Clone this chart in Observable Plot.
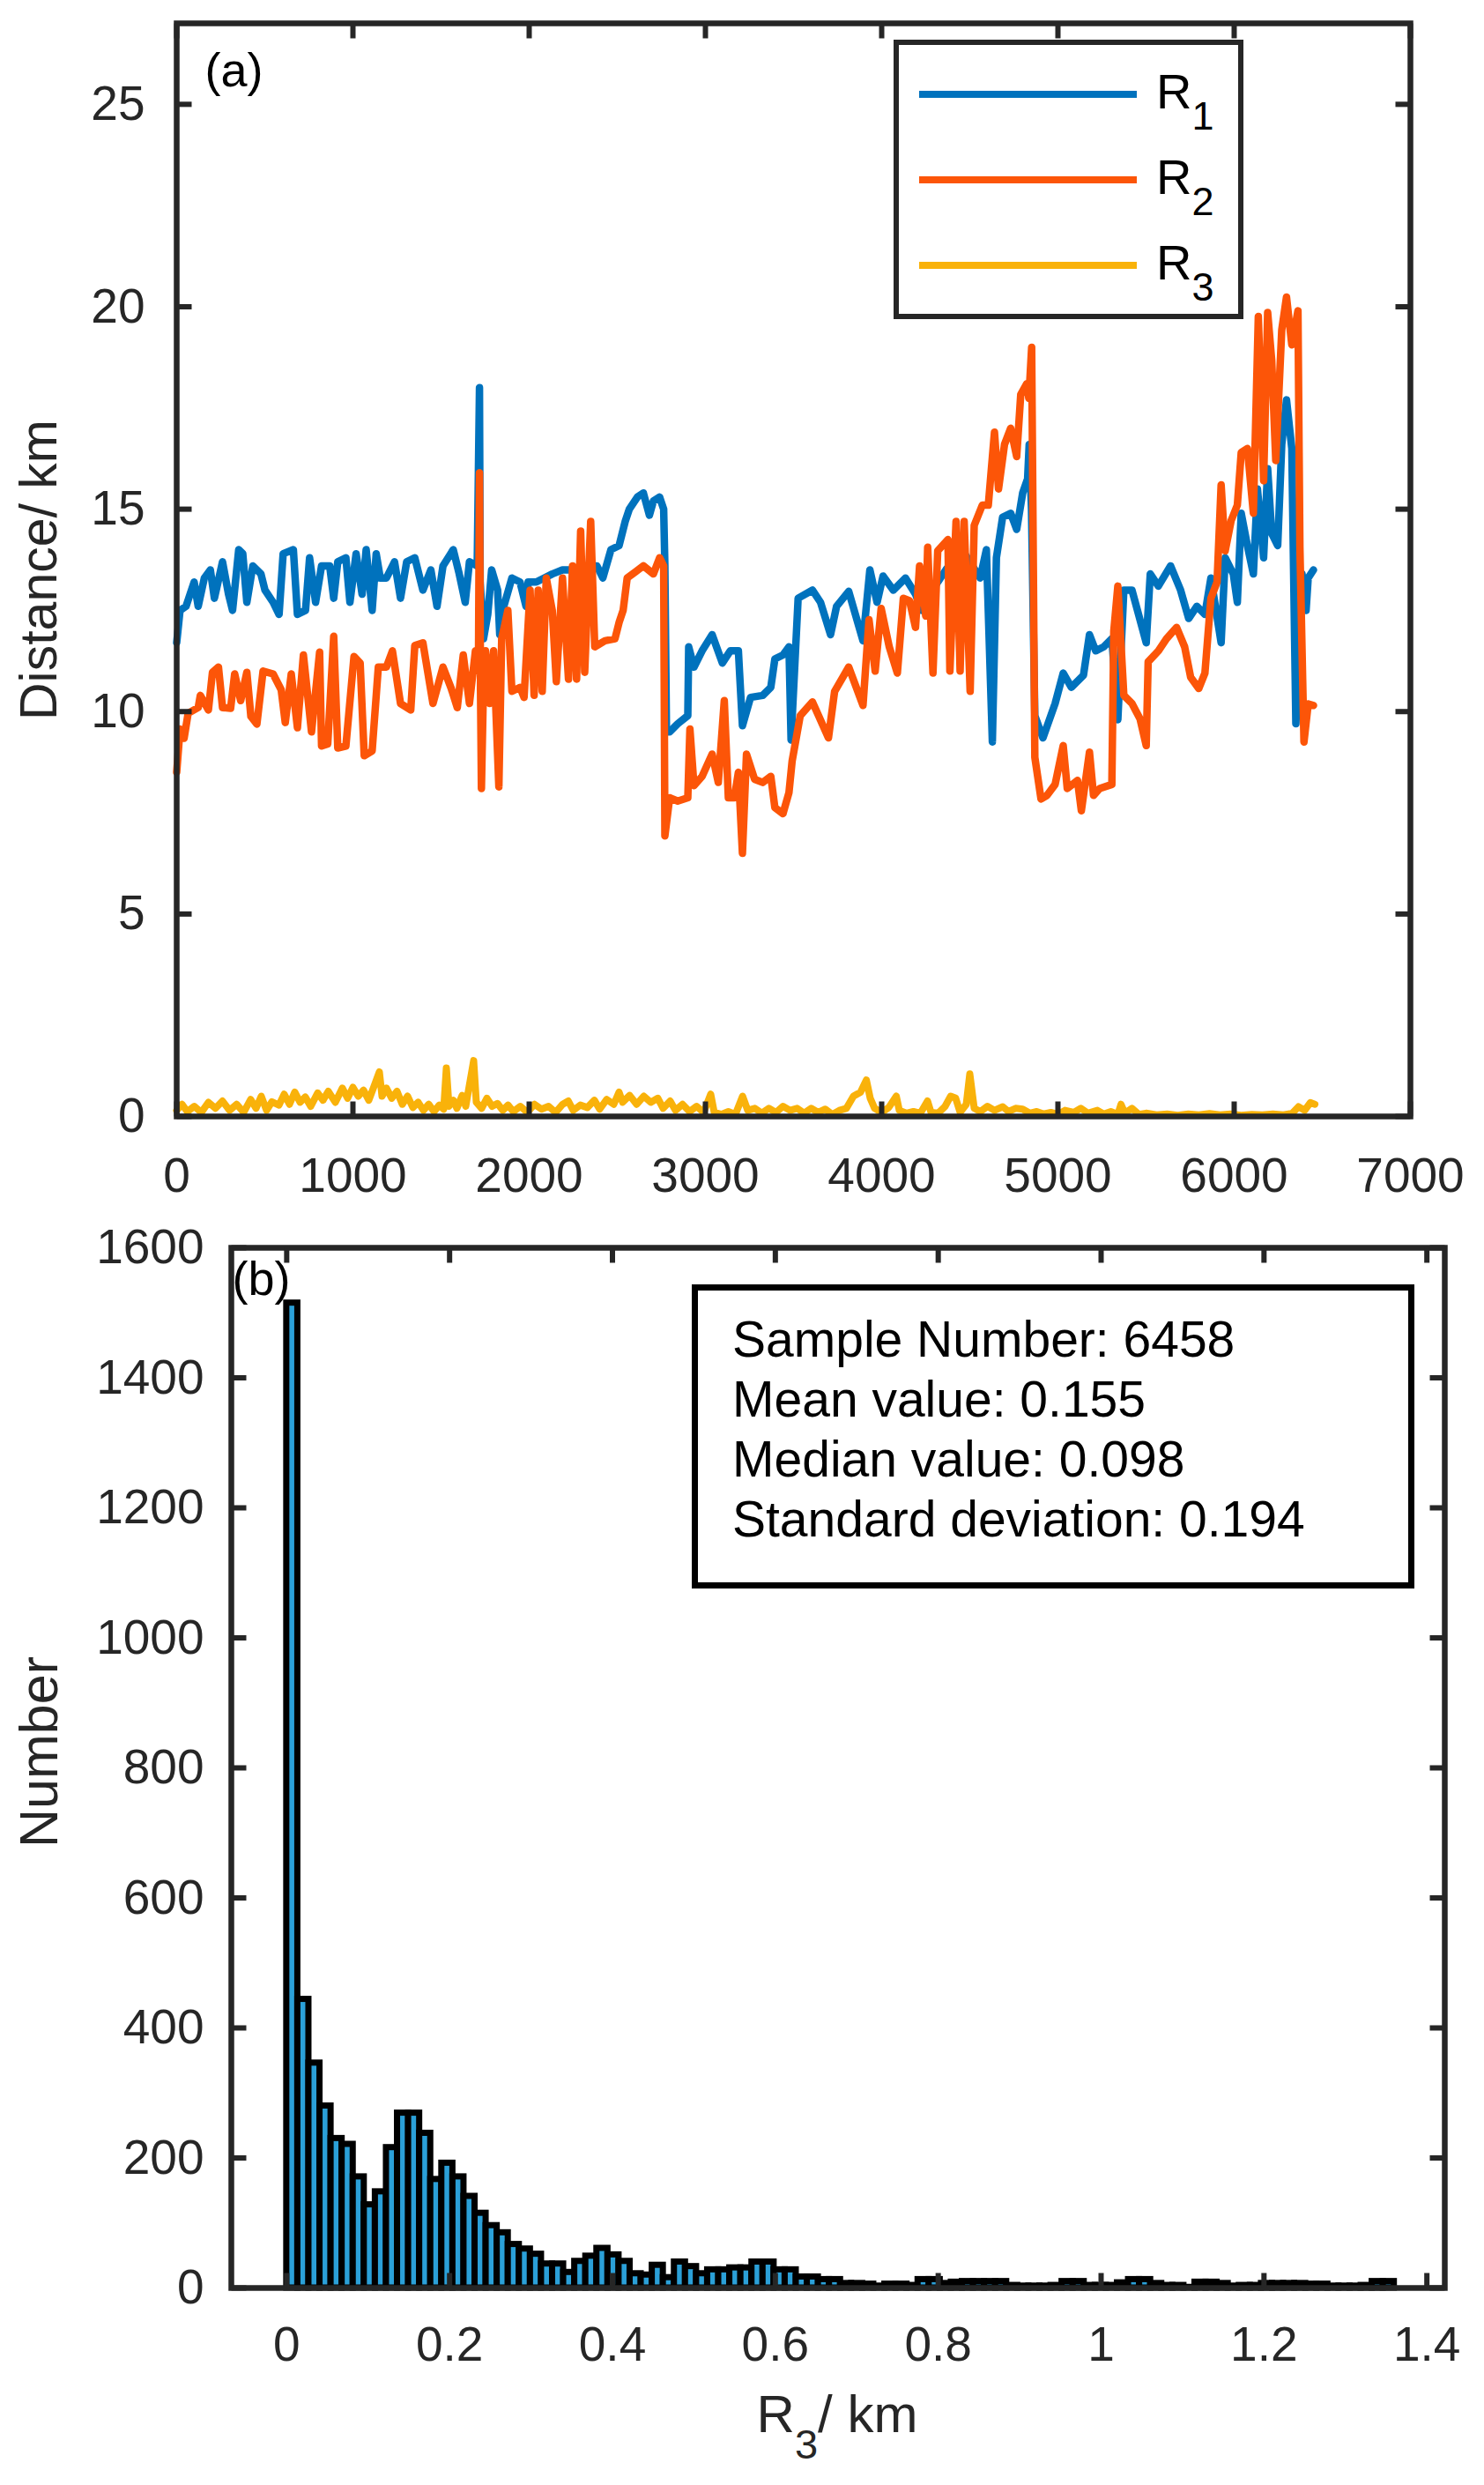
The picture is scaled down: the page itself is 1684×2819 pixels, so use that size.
<!DOCTYPE html>
<html>
<head>
<meta charset="utf-8">
<script src="https://cdn.jsdelivr.net/npm/d3@7"></script>
<script src="https://cdn.jsdelivr.net/npm/@observablehq/plot@0.6"></script>
<style>
html,body{margin:0;padding:0;background:#fff;}
#wrap{position:relative;width:1684px;height:2819px;overflow:hidden;font-family:"Liberation Sans",Arial,Helvetica,sans-serif;}
#top,#bot,#ov{position:absolute;left:0;}
#top{top:0;} #bot{top:1380px;} #ov{top:0;pointer-events:none;}
</style>
</head>
<body>
<div id="wrap">
  <div id="top"></div>
  <div id="bot"></div>
  <svg id="ov" width="1684" height="2819" style="font-family:'Liberation Sans',Arial,Helvetica,sans-serif">
    <g id="legend">
      <rect x="1017" y="48" width="391" height="311" fill="#fff" stroke="#262626" stroke-width="6"/>
    </g>
    <g id="stats">
      <rect x="788.5" y="1460.5" width="813" height="338" fill="#fff" stroke="#000" stroke-width="7"/>
    </g>
    <g id="xlabelB"></g>
  </svg>
</div>
<script>
// ---------------- DATA ----------------
// Panel (a): sample index vs distance (km)
const r1 = [
[0,11.7],[19,12.5],[53,12.6],[99,13.2],[122,12.6],[157,13.3],[191,13.5],[214,12.8],[260,13.7],[294,12.9],[317,12.5],[352,14.0],[375,13.9],[398,12.7],[432,13.6],[478,13.4],[501,13.0],[547,12.7],[581,12.4],[604,13.9],[662,14.0],[685,12.4],[731,12.5],[754,13.8],[788,12.7],[822,13.6],[868,13.6],[891,12.8],[914,13.7],[960,13.8],[983,12.7],[1018,13.9],[1052,12.9],[1075,14.0],[1109,12.5],[1132,13.9],[1155,13.3],[1190,13.3],[1236,13.7],[1270,12.8],[1305,13.7],[1351,13.8],[1397,13.0],[1442,13.5],[1477,12.6],[1511,13.6],[1569,14.0],[1603,13.4],[1637,12.7],[1661,13.7],[1705,13.6],[1718,18.0],[1722,13.2],[1741,11.8],[1765,12.4],[1787,13.5],[1821,13.0],[1833,11.9],[1856,12.6],[1902,13.3],[1948,13.2],[1982,12.6],[1994,13.2],[2040,13.2],[2085,13.3],[2131,13.4],[2189,13.5],[2246,13.5],[2300,13.6],[2384,13.6],[2418,13.3],[2464,14.0],[2510,14.1],[2545,14.7],[2568,15.0],[2614,15.3],[2648,15.4],[2682,14.85],[2705,15.2],[2740,15.3],[2763,15.0],[2770,13.6],[2779,9.5],[2797,9.5],[2843,9.7],[2900,9.9],[2905,11.6],[2935,11.1],[2981,11.5],[3038,11.9],[3096,11.2],[3141,11.5],[3187,11.5],[3210,9.65],[3256,10.35],[3325,10.4],[3371,10.6],[3394,11.3],[3440,11.4],[3474,11.6],[3486,9.3],[3526,12.8],[3607,13.0],[3653,12.7],[3710,11.9],[3744,12.6],[3813,12.97],[3894,11.75],[3933,13.5],[3974,12.7],[4008,13.35],[4066,13.0],[4135,13.3],[4192,12.9],[4227,12.5],[4318,13.2],[4364,13.5],[4456,14.0],[4559,13.3],[4594,14.0],[4628,9.25],[4651,13.8],[4686,14.8],[4732,14.9],[4766,14.5],[4800,15.4],[4828,15.75],[4837,16.6],[4850,15.0],[4869,9.9],[4915,9.35],[4984,10.2],[5030,10.95],[5076,10.6],[5145,10.9],[5179,11.9],[5214,11.5],[5260,11.6],[5306,11.8],[5340,9.8],[5374,13.0],[5420,13.0],[5501,11.7],[5524,13.4],[5570,13.1],[5639,13.6],[5696,13.0],[5742,12.3],[5788,12.6],[5834,12.4],[5868,13.3],[5926,11.7],[5949,13.8],[5995,13.4],[6018,12.7],[6040,14.9],[6075,14.1],[6109,13.4],[6132,15.5],[6167,13.8],[6190,16.0],[6213,14.4],[6247,14.1],[6270,16.6],[6297,17.7],[6327,16.5],[6350,9.7],[6385,13.4],[6408,12.5],[6420,13.3],[6450,13.5]
];
const r2 = [
[0,8.5],[19,9.57],[42,9.34],[65,9.96],[122,10.1],[134,10.4],[180,10.04],[203,10.97],[237,11.1],[260,10.1],[306,10.08],[329,10.93],[363,10.27],[398,10.97],[421,9.88],[455,9.69],[490,11.0],[547,10.93],[593,10.54],[616,9.73],[650,10.93],[685,9.6],[719,11.4],[765,9.5],[811,11.47],[822,9.15],[857,9.2],[891,11.86],[914,9.1],[960,9.15],[1006,11.36],[1041,11.2],[1064,8.91],[1109,9.03],[1144,11.1],[1190,11.1],[1224,11.5],[1270,10.2],[1328,10.04],[1351,11.63],[1397,11.7],[1454,10.2],[1511,11.1],[1557,10.58],[1592,10.1],[1626,11.4],[1661,10.2],[1695,11.5],[1712,11.0],[1718,15.9],[1724,10.5],[1729,8.1],[1740,10.5],[1752,11.5],[1775,10.2],[1798,11.5],[1828,8.14],[1844,11.8],[1879,12.5],[1902,10.5],[1948,10.6],[1971,10.35],[2005,13.0],[2028,10.4],[2051,13.0],[2074,10.5],[2097,13.3],[2131,12.5],[2154,10.74],[2189,13.3],[2223,10.8],[2246,13.6],[2269,10.8],[2292,14.46],[2315,10.97],[2349,14.7],[2372,11.6],[2430,11.75],[2487,11.8],[2510,12.2],[2533,12.5],[2556,13.3],[2602,13.45],[2648,13.6],[2705,13.4],[2740,13.8],[2763,13.6],[2770,6.93],[2797,7.87],[2843,7.79],[2900,7.87],[2912,9.57],[2935,8.17],[2981,8.4],[3038,8.95],[3073,8.25],[3107,10.27],[3130,7.87],[3164,7.87],[3187,8.5],[3210,6.5],[3233,8.95],[3279,8.33],[3325,8.25],[3371,8.4],[3394,7.63],[3440,7.48],[3474,8.0],[3492,8.78],[3538,9.9],[3607,10.24],[3698,9.35],[3733,10.5],[3813,11.1],[3894,10.15],[3928,12.27],[3963,11.0],[3997,12.55],[4043,11.6],[4089,10.95],[4123,12.8],[4158,12.74],[4192,12.08],[4215,13.6],[4250,12.36],[4261,14.06],[4291,10.95],[4318,13.97],[4376,14.25],[4387,11.0],[4422,14.7],[4445,11.0],[4468,14.7],[4502,10.5],[4525,14.6],[4571,15.1],[4605,15.1],[4640,16.9],[4663,15.5],[4697,16.6],[4732,17.0],[4766,16.3],[4789,17.83],[4823,18.1],[4835,17.74],[4851,19.0],[4869,8.87],[4904,7.84],[4938,7.93],[4984,8.2],[5030,9.16],[5053,8.1],[5111,8.3],[5133,7.55],[5179,9.0],[5202,7.93],[5237,8.1],[5306,8.2],[5317,11.99],[5340,13.1],[5374,10.4],[5420,10.2],[5466,9.82],[5501,9.16],[5512,11.23],[5570,11.5],[5616,11.8],[5673,12.08],[5719,11.6],[5753,10.85],[5799,10.57],[5834,10.95],[5868,12.8],[5903,13.2],[5926,15.6],[5949,13.97],[5983,14.72],[6018,15.1],[6040,16.4],[6075,16.5],[6109,14.9],[6137,19.76],[6167,15.7],[6190,19.86],[6213,18.68],[6236,16.2],[6270,19.43],[6297,20.24],[6327,19.06],[6362,19.9],[6373,14.06],[6396,9.25],[6420,10.19],[6450,10.15]
];
const r3 = [
[0,0.15],[30,0.3],[60,0.12],[100,0.25],[140,0.1],[180,0.35],[220,0.2],[260,0.38],[300,0.15],[340,0.3],[380,0.1],[420,0.42],[450,0.2],[480,0.5],[510,0.15],[540,0.36],[580,0.28],[610,0.55],[640,0.3],[670,0.6],[700,0.35],[730,0.48],[760,0.25],[800,0.58],[830,0.4],[860,0.62],[900,0.35],[940,0.7],[970,0.45],[1000,0.72],[1030,0.5],[1060,0.65],[1090,0.4],[1120,0.75],[1150,1.1],[1165,0.5],[1190,0.7],[1220,0.45],[1250,0.62],[1280,0.3],[1310,0.5],[1340,0.22],[1370,0.35],[1400,0.15],[1430,0.3],[1460,0.12],[1490,0.28],[1515,0.18],[1530,1.2],[1545,0.25],[1570,0.4],[1590,0.2],[1620,0.52],[1640,0.25],[1685,1.38],[1700,0.35],[1730,0.2],[1760,0.45],[1790,0.25],[1820,0.32],[1850,0.15],[1880,0.28],[1910,0.12],[1950,0.25],[1990,0.1],[2030,0.3],[2070,0.18],[2110,0.25],[2150,0.1],[2190,0.3],[2222,0.38],[2250,0.15],[2290,0.28],[2330,0.22],[2370,0.4],[2400,0.18],[2440,0.42],[2480,0.3],[2510,0.6],[2530,0.35],[2570,0.52],[2610,0.3],[2650,0.5],[2690,0.35],[2730,0.45],[2760,0.2],[2800,0.38],[2830,0.15],[2870,0.3],[2910,0.12],[2950,0.25],[2990,0.1],[3030,0.55],[3050,0.1],[3090,0.05],[3130,0.12],[3170,0.05],[3211,0.5],[3240,0.15],[3280,0.2],[3320,0.08],[3360,0.2],[3400,0.1],[3440,0.25],[3480,0.15],[3520,0.2],[3560,0.08],[3600,0.2],[3640,0.1],[3680,0.18],[3720,0.05],[3760,0.15],[3800,0.2],[3840,0.5],[3880,0.6],[3913,0.9],[3935,0.45],[3960,0.2],[4000,0.1],[4040,0.22],[4083,0.5],[4100,0.15],[4140,0.08],[4180,0.12],[4220,0.08],[4260,0.38],[4280,0.1],[4320,0.08],[4360,0.25],[4391,0.5],[4420,0.45],[4445,0.1],[4480,0.3],[4500,1.05],[4525,0.2],[4560,0.12],[4600,0.25],[4640,0.15],[4687,0.24],[4720,0.12],[4760,0.2],[4800,0.18],[4840,0.08],[4880,0.12],[4920,0.06],[4960,0.1],[5000,0.05],[5040,0.15],[5090,0.1],[5130,0.2],[5170,0.08],[5224,0.15],[5260,0.06],[5300,0.12],[5340,0.05],[5358,0.3],[5380,0.08],[5420,0.2],[5460,0.05],[5500,0.08],[5560,0.04],[5620,0.06],[5680,0.03],[5740,0.06],[5800,0.04],[5860,0.07],[5920,0.04],[5980,0.06],[6040,0.03],[6100,0.05],[6160,0.04],[6220,0.06],[6280,0.04],[6330,0.08],[6365,0.24],[6400,0.15],[6432,0.34],[6458,0.3]
];
const seriesNames = ["R1", "R2", "R3"];
const seriesColors = ["#0072BD", "#FC5508", "#F9B20A"];
const xTicksA = [0, 1000, 2000, 3000, 4000, 5000, 6000, 7000];
const yTicksA = [0, 5, 10, 15, 20, 25];
const xDomainA = [0, 7000];
const yDomainA = [0, 27];

// Panel (b): histogram of R3 (100 bins of width 0.0136 km starting at 0)
const binStart = 0;
const binWidth = 0.0136;
const histCounts = [
1515,444,346,280,230,221,171,128,148,216,
269,269,238,167,192,171,141,115,96,85,
67,60,52,37,37,24,41,49,61,51,
41,22,20,35,16,40,33,22,28,28,
31,31,40,40,28,28,17,17,13,13,
7,7,6,3,6,6,4,13,13,7,
9,10,10,10,10,4,3,3,3,4,
10,10,4,4,4,8,13,13,7,4,
4,1,9,9,7,3,4,4,7,7,
7,7,6,6,3,3,3,4,10,10
];
const xTicksB = [0, 0.2, 0.4, 0.6, 0.8, 1, 1.2, 1.4];
const yTicksB = [0, 200, 400, 600, 800, 1000, 1200, 1400, 1600];
const xDomainB = [-0.068, 1.422];
const yDomainB = [0, 1600];
const statLines = ["Sample Number: 6458", "Mean value: 0.155", "Median value: 0.098", "Standard deviation: 0.194"];

// ---------------- DRAWING ----------------
const FONT = "'Liberation Sans', Arial, Helvetica, sans-serif";
const INK = "#262626";
const tickShape = {draw(ctx, l) { ctx.moveTo(0, 0); ctx.lineTo(0, -l); }};
function boxTicks(xt, yt, xd, yd, len, sw) {
  const o = {stroke: INK, strokeWidth: sw, shape: tickShape, length: len, anchor: "start", strokeLinecap: "butt"};
  return [
    Plot.vector(xt, {...o, x: d => d, y: () => yd[0], rotate: 0}),
    Plot.vector(xt, {...o, x: d => d, y: () => yd[1], rotate: 180}),
    Plot.vector(yt, {...o, x: () => xd[0], y: d => d, rotate: 90}),
    Plot.vector(yt, {...o, x: () => xd[1], y: d => d, rotate: -90})
  ];
}

const series = [r1, r2, r3];
const lineWidths = [8.5, 8.5, 8];
const topChart = Plot.plot({
  width: 1684, height: 1380,
  marginTop: 26, marginRight: 84, marginBottom: 114, marginLeft: 200,
  x: {domain: xDomainA}, y: {domain: yDomainA},
  style: {fontFamily: FONT, background: "transparent", overflow: "visible"},
  marks: [
    ...series.map((s, i) => Plot.line(s, {x: d => d[0], y: d => d[1], stroke: seriesColors[i], strokeWidth: lineWidths[i], strokeLinejoin: "round"})),
    Plot.frame({stroke: INK, strokeWidth: 6.5}),
    ...boxTicks(xTicksA, yTicksA, xDomainA, yDomainA, 17, 6),
    Plot.axisX(xTicksA, {tickSize: 0, tickPadding: 46, fontSize: 55, color: INK, tickFormat: d => String(d), label: null}),
    Plot.axisY(yTicksA, {tickSize: 0, tickPadding: 36, fontSize: 55, color: INK, tickFormat: d => String(d), label: null}),
    Plot.text(["Distance/ km"], {frameAnchor: "left", dx: -155, rotate: -90, textAnchor: "middle", lineAnchor: "middle", fontSize: 59, fill: INK}),
    Plot.text(["(a)"], {frameAnchor: "top-left", dx: 32, dy: 33, textAnchor: "start", lineAnchor: "top", fontSize: 54, fill: "#000"})
  ]
});
document.getElementById("top").appendChild(topChart);

const bins = histCounts.map((n, i) => ({x1: binStart + i * binWidth, x2: binStart + (i + 1) * binWidth, n}));
const botChart = Plot.plot({
  width: 1684, height: 1439,
  marginTop: 35, marginRight: 45, marginBottom: 224, marginLeft: 262,
  x: {domain: xDomainB}, y: {domain: yDomainB},
  style: {fontFamily: FONT, background: "transparent", overflow: "visible"},
  marks: [
    Plot.text(["(b)"], {frameAnchor: "top-left", dx: 1, dy: 15, textAnchor: "start", lineAnchor: "top", fontSize: 54, fill: "#000"}),
    Plot.rect(bins, {x1: "x1", x2: "x2", y1: () => 0, y2: "n", fill: "#2BA0D8", stroke: "#000", strokeWidth: 7}),
    Plot.frame({stroke: INK, strokeWidth: 6.5}),
    ...boxTicks(xTicksB, yTicksB, xDomainB, yDomainB, 17, 6),
    Plot.axisX(xTicksB, {tickSize: 0, tickPadding: 43, fontSize: 55, color: INK, tickFormat: d => String(d), label: null}),
    Plot.axisY(yTicksB, {tickSize: 0, tickPadding: 31, fontSize: 55, color: INK, tickFormat: d => String(d), label: null}),
    Plot.text(["Number"], {frameAnchor: "left", dx: -217, dy: -18, rotate: -90, textAnchor: "middle", lineAnchor: "middle", fontSize: 61, fill: INK})
  ]
});
document.getElementById("bot").appendChild(botChart);

// ---------------- OVERLAY TEXT (legend, stats box, x label with subscript) ----------------
const NS = "http://www.w3.org/2000/svg";
function el(tag, attrs, parent) {
  const e = document.createElementNS(NS, tag);
  for (const k in attrs) e.setAttribute(k, attrs[k]);
  parent.appendChild(e);
  return e;
}
function subText(parent, x, y, main, sub, rest, size, subSize, shift, fill, anchor) {
  const t = el("text", {x, y, "font-size": size, fill, "text-anchor": anchor || "start"}, parent);
  t.appendChild(document.createTextNode(main));
  const s = el("tspan", {"font-size": subSize, dy: shift}, t);
  s.textContent = sub;
  if (rest) { const r = el("tspan", {dy: -shift}, t); r.textContent = rest; }
  return t;
}
const legend = document.getElementById("legend");
seriesNames.forEach((name, i) => {
  const y = 107 + i * 97;
  el("line", {x1: 1043, x2: 1290, y1: y, y2: y, stroke: seriesColors[i], "stroke-width": 8}, legend);
  subText(legend, 1312, y + 16, name[0], name.slice(1), "", 56, 45, 24, "#000");
});
const stats = document.getElementById("stats");
statLines.forEach((s, i) => {
  const t = el("text", {x: 831, y: 1539 + i * 68, "font-size": 57, fill: "#000"}, stats);
  t.textContent = s;
});
subText(document.getElementById("xlabelB"), 950, 2759, "R", "3", "/ km", 60, 47, 30, INK, "middle");
</script>
</body>
</html>
